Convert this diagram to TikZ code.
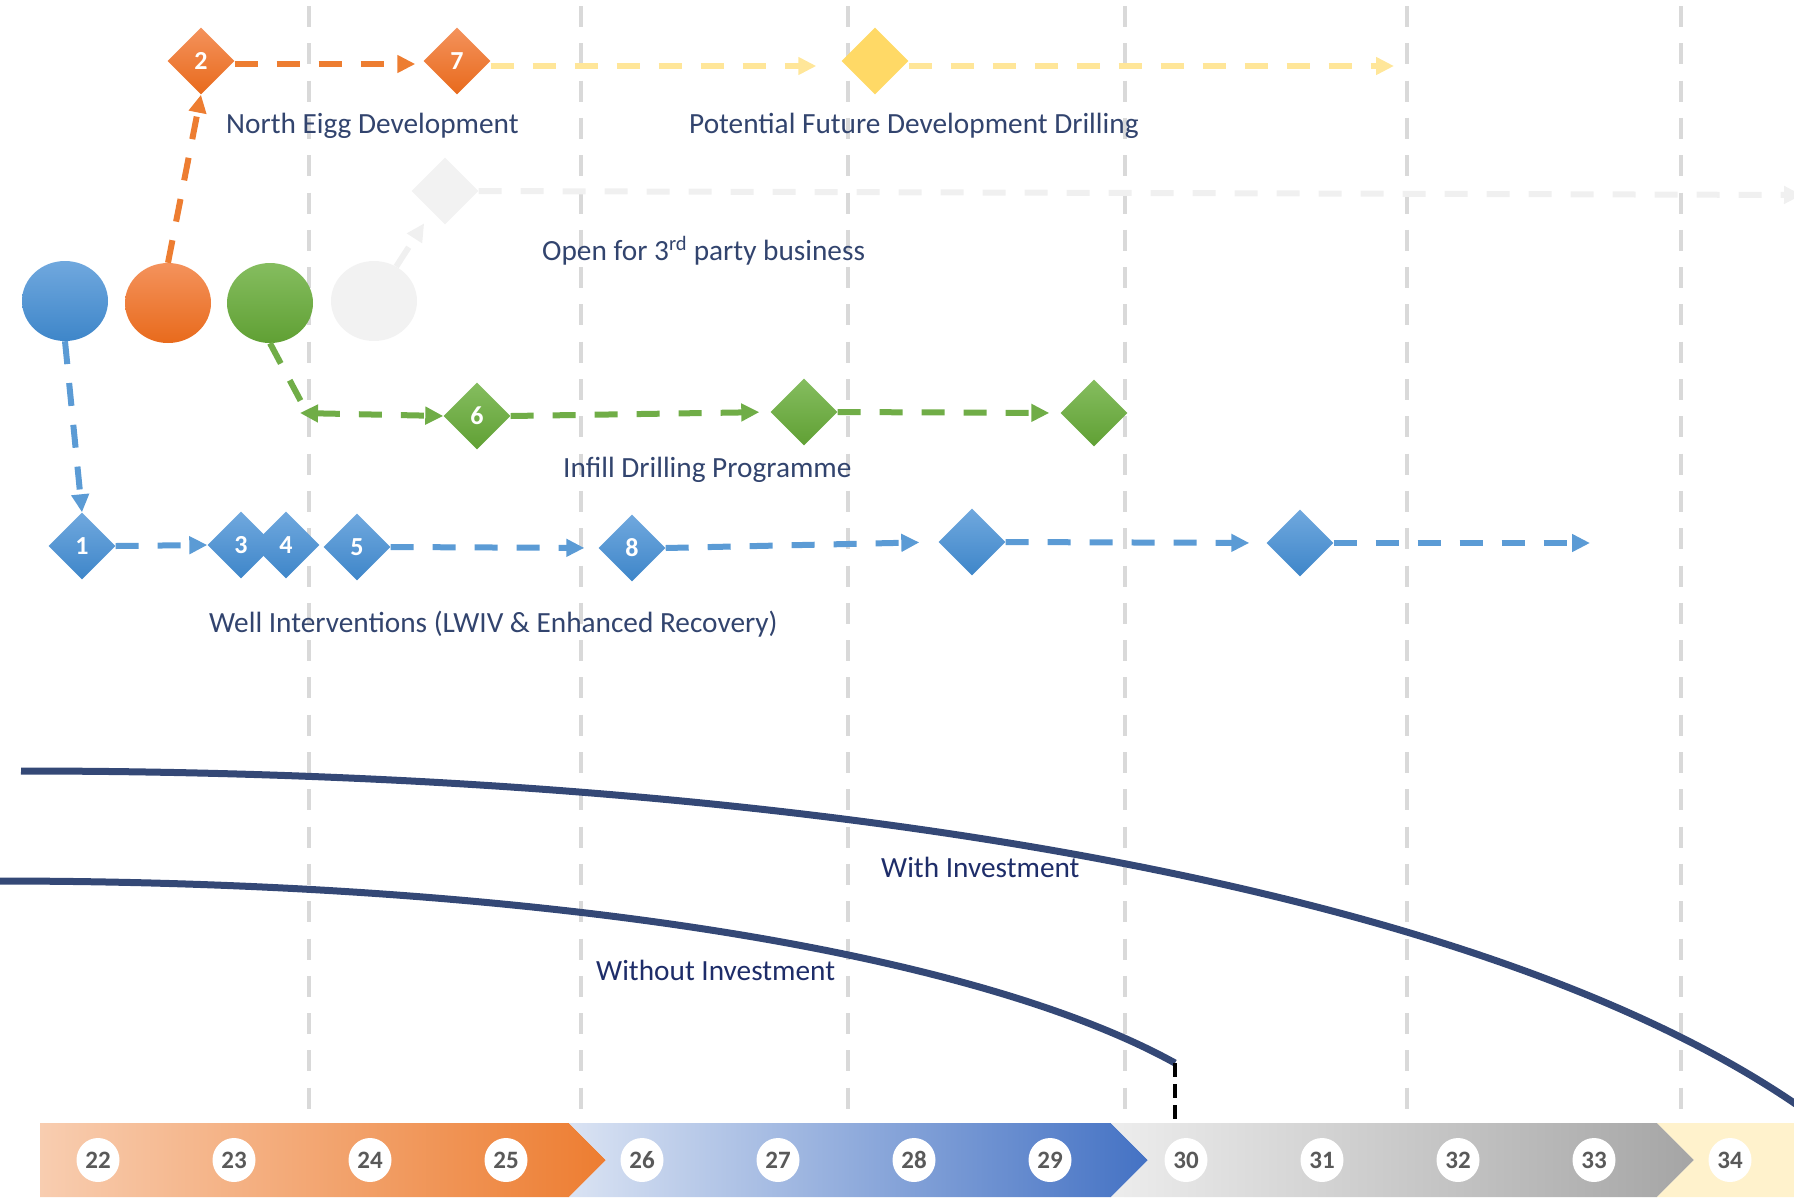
\documentclass[tikz,border=0pt]{standalone}
\usepackage{fontspec}
\setmainfont{Carlito}
\usetikzlibrary{shapes.geometric,arrows.meta,calc}

\definecolor{gridgray}{RGB}{217,217,217}
\definecolor{lblblue}{RGB}{50,68,110}
\definecolor{invblue}{RGB}{30,45,105}
\definecolor{curveblue}{RGB}{52,72,118}
\definecolor{numgray}{RGB}{89,89,89}
\definecolor{lnblue}{RGB}{91,155,213}
\definecolor{lnorange}{RGB}{237,125,49}
\definecolor{lngreen}{RGB}{112,173,71}
\definecolor{lnyellow}{RGB}{255,230,153}
\definecolor{lnpale}{RGB}{240,240,240}
\definecolor{blueT}{RGB}{112,168,222}
\definecolor{blueB}{RGB}{62,134,201}
\definecolor{orangeT}{RGB}{244,146,92}
\definecolor{orangeB}{RGB}{232,106,28}
\definecolor{greenT}{RGB}{133,189,95}
\definecolor{greenB}{RGB}{96,160,52}
\definecolor{yellowD}{RGB}{255,217,102}
\definecolor{paleD}{RGB}{242,242,242}
% timeline band colours
\definecolor{bandOrL}{RGB}{248,205,176}
\definecolor{bandOrM}{RGB}{242,169,122}
\definecolor{bandBlL}{RGB}{218,227,243}
\definecolor{bandBlM}{RGB}{180,196,230}
\definecolor{bandBlR}{RGB}{68,114,196}
\definecolor{bandGrL}{RGB}{237,237,237}
\definecolor{bandGrM}{RGB}{217,217,217}
\definecolor{bandGrR}{RGB}{165,165,165}
\definecolor{bandYe}{RGB}{255,242,204}

\begin{document}
\begin{tikzpicture}[x=1pt,y=-1pt,
  vline/.style={draw=gridgray, line width=4pt, dash pattern=on 21pt off 16.3pt},
  link/.style={line width=6pt, dash pattern=on 23pt off 19pt,
    -{Triangle[length=18pt,width=17pt]}},
  plainlink/.style={line width=6pt, dash pattern=on 23pt off 19pt},
  msd/.style={diamond, aspect=1, minimum width=67pt, minimum height=67pt,
    inner sep=0pt, text=white, font=\fontsize{26}{26}\selectfont\bfseries},
  bluemsd/.style={msd, top color=blueT, bottom color=blueB},
  orangemsd/.style={msd, top color=orangeT, bottom color=orangeB},
  greenmsd/.style={msd, top color=greenT, bottom color=greenB},
  startc/.style={ellipse, minimum width=86pt, minimum height=80pt, inner sep=0pt},
  lbl/.style={text=lblblue, font=\fontsize{29.3}{34}\selectfont, inner sep=0pt, anchor=base west},
  invlbl/.style={text=invblue, font=\fontsize{29.3}{34}\selectfont, inner sep=0pt, anchor=base west},
  yearc/.style={ellipse, fill=white, minimum width=43pt, minimum height=44pt,
    inner sep=0pt, text=numgray, font=\fontsize{25}{25}\selectfont\bfseries},
  curve/.style={draw=curveblue, line width=7pt}
]
\useasboundingbox (0,0) rectangle (1794,1203);

% year grid
\foreach \x in {309,581,848,1125,1407,1681}
  \draw[vline] (\x,6) -- (\x,1110);

% timeline chevrons
\shade[left color=bandOrL, middle color=bandOrM, right color=lnorange]
  (40,1123) -- (569,1123) -- (606,1160) -- (569,1197) -- (40,1197) -- cycle;
\shade[left color=bandBlL, middle color=bandBlM, right color=bandBlR]
  (569,1123) -- (1111,1123) -- (1148,1160) -- (1111,1197) -- (569,1197) -- (606,1160) -- cycle;
\shade[left color=bandGrL, middle color=bandGrM, right color=bandGrR]
  (1111,1123) -- (1657,1123) -- (1694,1160) -- (1657,1197) -- (1111,1197) -- (1148,1160) -- cycle;
\fill[bandYe]
  (1657,1123) -- (1794,1123) -- (1794,1197) -- (1657,1197) -- (1694,1160) -- cycle;

\foreach \n [count=\i from 0] in {22,...,34}
  \node[yearc] (y\n) at ({98+136*\i},1160) {\n};

% production curves
\draw[curve] (21,771) .. controls (800,771) and (1480,885) .. (1800,1107);
\coordinate (woEnd) at (1175,1063);
\draw[curve] (-4,881) .. controls (550,881) and (980,955) .. (woEnd);
\draw[black, line width=3.5pt, dash pattern=on 14pt off 7pt] (woEnd) -- (woEnd |- 0,1123);

% start circles
\node[startc, top color=blueT, bottom color=blueB] (bc) at (65,301) {};
\node[startc, top color=orangeT, bottom color=orangeB] (oc) at (168,303) {};
\node[startc, top color=greenT, bottom color=greenB] (grc) at (270,303) {};
\node[startc, fill=paleD] (pc) at (374,301) {};

% milestones
\node[orangemsd] (d2) at (201,61) {2};
\node[orangemsd] (d7) at (457,61) {7};
\node[msd, fill=yellowD] (yd) at (875,61) {};
\node[msd, fill=paleD] (gd) at (445,191) {};

\node[greenmsd] (d6) at (477,416) {6};
\node[greenmsd] (g2) at (804,412) {};
\node[greenmsd] (g3) at (1094,413) {};

\node[bluemsd] (d1) at (82,546) {1};
\node[bluemsd] (d3) at (241,545) {3};
\node[bluemsd] (d4) at (286,545) {4};
\node[bluemsd] (d5) at (357,547) {5};
\node[bluemsd] (d8) at (632,548) {8};
\node[bluemsd] (b2) at (972,542) {};
\node[bluemsd] (b3) at (1300,543) {};

\coordinate (yEnd) at (1394,66);
\coordinate (pEnd) at (1802,195);
\coordinate (gCornerA) at (305,409);
\coordinate (gCornerB) at (300,413);
\coordinate (bEnd) at (1590,543);

% connectors
\draw[link, lnorange] (oc.north) -- (d2.south);
\draw[link, lnorange, shorten >=8pt] ($(d2.east)+(0,3)$) -- ($(d7.west)+(0,3)$);
\draw[link, lnyellow, shorten >=25pt] ($(d7.east)+(0,5)$) -- ($(yd.west)+(0,5)$);
\draw[link, lnyellow] ($(yd.east)+(0,5)$) -- (yEnd);

\draw[link, lnpale, shorten >=14pt] (pc) -- (gd);
\draw[link, lnpale] (gd.east) -- (pEnd);

\draw[plainlink, lngreen] (grc.south) -- (gCornerA);
\draw[link, lngreen, {Triangle[length=18pt,width=17pt]}-{Triangle[length=18pt,width=17pt]}] (gCornerB) -- (d6.west);
\draw[link, lngreen, shorten >=11pt] (d6.east) -- (g2.west);
\draw[link, lngreen, shorten >=11pt] (g2.east) -- (g3.west);

\draw[link, lnblue] (bc.south) -- (d1.north);
\draw[link, lnblue] (d1.east) -- (d3.west);
\draw[link, lnblue, shorten >=14pt] (d5.east) -- (d8.west);
\draw[link, lnblue, shorten >=19pt] (d8.east) -- (b2.west);
\draw[link, lnblue, shorten >=17pt] (b2.east) -- (b3.west);
\draw[link, lnblue] (b3.east) -- (bEnd);

% labels
\node[lbl] (tNE) at (226,133) {North Eigg Development};
\node[lbl] (tPF) at (689,133) {Potential Future Development Drilling};
\node[lbl] (tOP) at (542,260) {Open for 3\textsuperscript{rd} party business};
\node[lbl] (tIF) at (563,477) {Infill Drilling Programme};
\node[lbl] (tWI) at (209,632) {Well Interventions (LWIV \& Enhanced Recovery)};
\node[invlbl] (tWith) at (881,877) {With Investment};
\node[invlbl] (tWO) at (596,980) {Without Investment};
\end{tikzpicture}
\end{document}
